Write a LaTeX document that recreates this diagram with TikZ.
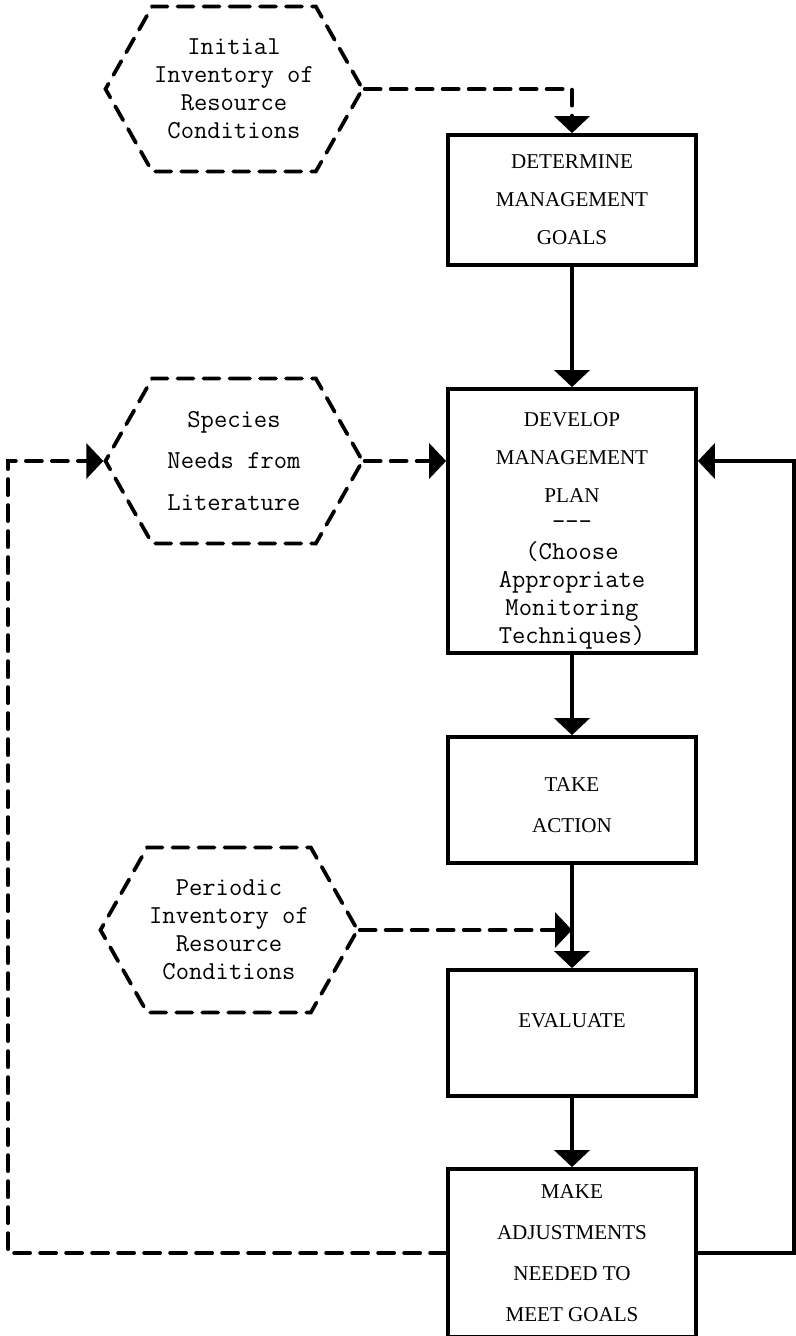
\documentclass[tikz,border=0pt]{standalone}
\usepackage{fontspec}
\usetikzlibrary{arrows.meta,shapes.symbols}
\newfontfamily\capsface{Liberation Serif}
\newcommand{\boxfont}{\capsface\fontsize{12}{21.6}\selectfont}
\newcommand{\hexfont}{\ttfamily\fontsize{14.7}{15.9}\selectfont}
\tikzset{
	solidline/.style={line width=0.75mm},
	dashline/.style={line width=0.75mm, dash pattern=on 3.2mm off 2mm, line cap=round},
	head/.style={-{Triangle[width=7mm,length=3.4mm]}},
	box/.style={draw, solidline, minimum width=49.6mm, align=center, font=\boxfont, inner sep=0pt},
	hexa/.style={signal, signal to=west and east, signal pointer angle=121, draw, dashline,
		minimum width=51.4mm, minimum height=33mm, align=center, font=\hexfont, inner sep=0pt}
}
\begin{document}
\begin{tikzpicture}[x=0.2mm,y=-0.2mm]
					\useasboundingbox (0,0) rectangle (796,1336);
					\node[hexa] (initial)  at (234,89)  {Initial\\Inventory of\\Resource\\Conditions};
					\node[hexa] (species)  at (234,461) {Species\\[2.7mm]Needs from\\[2.7mm]Literature};
					\node[hexa] (periodic) at (229,930) {Periodic\\Inventory of\\Resource\\Conditions};
					
					\node[box, minimum height=26mm]   (determine) at (572,200) {DETERMINE\\MANAGEMENT\\GOALS};
					\node[box, minimum height=52.8mm] (develop)   at (572,521) {DEVELOP\\MANAGEMENT\\PLAN\\[-2.2mm]\hexfont -{}-{}-\\[-1.6mm]\hexfont (Choose\\[-2mm]\hexfont Appropriate\\[-2mm]\hexfont Monitoring\\[-2mm]\hexfont Techniques)\\[-10.4mm]\mbox{}};
					\node[box, minimum height=25.2mm] (action)    at (572,800) {TAKE\\[0.8mm]ACTION\\[-9.6mm]\mbox{}};
					\node[box, minimum height=25.2mm] (evaluate)  at (572,1033) {EVALUATE\\[-2.8mm]\mbox{}};
					\node[box, minimum height=33.6mm] (adjust)    at (572,1253) {MAKE\\[0.6mm]ADJUSTMENTS\\[0.6mm]NEEDED TO\\[0.6mm]MEET GOALS};
					
					\coordinate (leftrail)  at (8,0);
					\coordinate (rightrail) at (794,0);
					
					\draw[dashline,head] (initial.east) -| (determine.north);
					\draw[solidline,head] (determine.south) -- (develop.north);
					\draw[dashline,head] (species.east) -- (species.east -| develop.west);
					\draw[solidline,head] (develop.south) -- (action.north);
					\draw[solidline,head] (action.south) -- (evaluate.north);
					\draw[dashline,head] (periodic.east) -- (periodic.east -| action.south);
					\draw[solidline,head] (evaluate.south) -- (adjust.north);
					\draw[dashline,head] (adjust.west) -| (leftrail |- species.west) -- (species.west);
					\draw[solidline,head] (adjust.east) -| (rightrail |- species.east) -- (develop.east |- species.east);
				\end{tikzpicture}
\end{document}
